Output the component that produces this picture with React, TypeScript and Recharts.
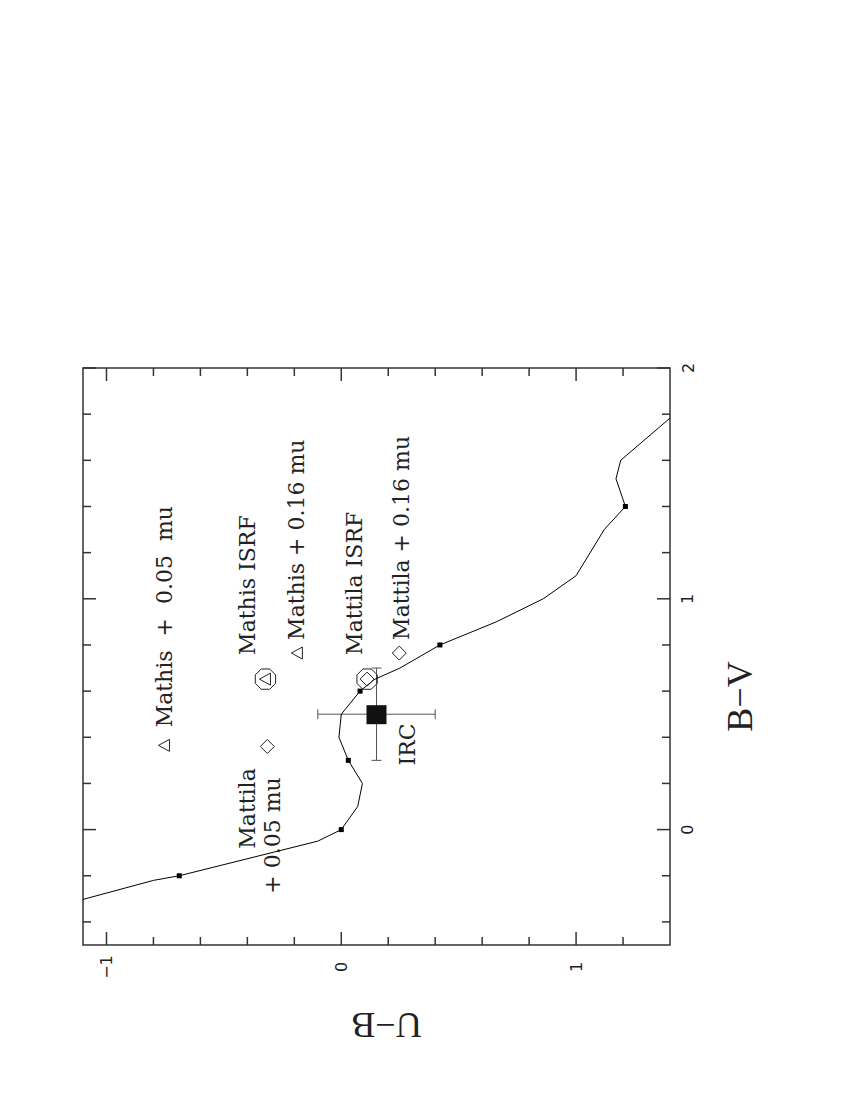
import React from 'react';
import { ScatterChart, Scatter, XAxis, YAxis, ErrorBar, ReferenceArea } from 'recharts';

// intrinsic colour sequence, in drawing order
const seqUB = [-1.2, -0.8, -0.69, -0.1, 0.0, 0.07, 0.09, 0.03, -0.01, 0.0, 0.08, 0.14, 0.25, 0.42, 0.66, 0.86, 1.0, 1.12, 1.21, 1.17, 1.19, 1.5];
const seqBV = [-0.33, -0.22, -0.2, -0.05, 0.0, 0.1, 0.2, 0.3, 0.4, 0.5, 0.6, 0.65, 0.7, 0.8, 0.9, 1.0, 1.1, 1.3, 1.4, 1.52, 1.6, 1.87];

// small squares on the sequence
const markUB = [-0.69, 0.0, 0.03, 0.08, 0.42, 1.21];
const markBV = [-0.2, 0.0, 0.3, 0.6, 0.8, 1.4];

// models
const mathisUB = [-0.753, -0.187];
const mathisBV = [0.365, 0.765];
const mattilaUB = [-0.315, 0.247];
const mattilaBV = [0.36, 0.765];
const isrfUB = [-0.323, 0.11];
const isrfBV = [0.652, 0.652];
const isrfKind = ['tri', 'dia'];

// observed IRC colours
const ircUB = [0.15];
const ircBV = [0.5];
const ircErrUB = [0.25];
const ircErrBV = [0.2];

const noteText = ['Mathis  +  0.05  mu', 'Mathis ISRF', 'Mathis + 0.16 mu', 'Mattila ISRF', 'Mattila + 0.16 mu', 'Mattila', '+ 0.05 mu', 'IRC'];
const noteUB = [-0.753, -0.4, -0.191, 0.055, 0.255, -0.4, -0.294, 0.28];
const noteBV = [0.443, 0.757, 0.822, 0.757, 0.822, -0.083, -0.278, 0.278];

const ubDomain = [-1.1, 1.4];
const bvDomain = [-0.5, 2];
const ubTicks = [-1, -0.8, -0.6, -0.4, -0.2, 0, 0.2, 0.4, 0.6, 0.8, 1, 1.2];
const bvTicks = [-0.4, -0.2, 0, 0.2, 0.4, 0.6, 0.8, 1, 1.2, 1.4, 1.6, 1.8, 2];

const zip = (u: number[], b: number[]) => u.map((v, i) => ({ ub: v, bv: b[i] }));
const seq = zip(seqUB, seqBV);
const marks = zip(markUB, markBV);
const mathis = zip(mathisUB, mathisBV);
const mattila = zip(mattilaUB, mattilaBV);
const isrf = isrfUB.map((v, i) => ({ ub: v, bv: isrfBV[i], kind: isrfKind[i] }));
const irc = ircUB.map((v, i) => ({ ub: v, bv: ircBV[i], eu: ircErrUB[i], eb: ircErrBV[i] }));
const notes = noteUB.map((v, i) => ({ ub: v, bv: noteBV[i], text: noteText[i] }));

const W = 842;
const H = 1092;
const MARGIN = { top: 360, left: 75, right: 120, bottom: 115 };
const X_AXIS_H = 40;
const Y_AXIS_W = 60;
const PLOT_W = W - MARGIN.left - MARGIN.right - Y_AXIS_W;
const PLOT_H = H - MARGIN.top - MARGIN.bottom - X_AXIS_H;

const INK = '#222';
const AXIS = '#333';
const LABEL_FONT = 'DejaVu Serif';
const TICK_FONT = 'DejaVu Sans';

const isMajor = (v: number) => Math.abs(v - Math.round(v)) < 1e-6;
const fmt = (v: number) => (v < 0 ? '\u2212' + Math.abs(v) : String(v));

// bottom axis tick, mirrored on the top edge
function BottomTick({ x, y, payload }: any) {
  const v = payload.value;
  const len = isMajor(v) ? 13 : 8;
  const ty = y + 22;
  const top = y - PLOT_H;
  return (
    <g>
      <line x1={x} y1={y} x2={x} y2={y - len} stroke={AXIS} strokeWidth={1.5} />
      <line x1={x} y1={top} x2={x} y2={top + len} stroke={AXIS} strokeWidth={1.5} />
      {isMajor(v) && (
        <text x={x} y={ty} transform={`rotate(-90 ${x} ${ty})`} textAnchor="middle" dominantBaseline="central"
          fontFamily={TICK_FONT} fontSize={16} fill={INK}>{fmt(v)}</text>
      )}
    </g>
  );
}

// right axis tick, mirrored on the left edge
function RightTick({ x, y, payload }: any) {
  const v = payload.value;
  const len = isMajor(v) ? 13 : 8;
  const tx = x + 18;
  const left = x - PLOT_W;
  return (
    <g>
      <line x1={x} y1={y} x2={x - len} y2={y} stroke={AXIS} strokeWidth={1.5} />
      <line x1={left} y1={y} x2={left + len} y2={y} stroke={AXIS} strokeWidth={1.5} />
      {isMajor(v) && (
        <text x={tx} y={y} transform={`rotate(-90 ${tx} ${y})`} textAnchor="middle" dominantBaseline="central"
          fontFamily={TICK_FONT} fontSize={16} fill={INK}>{fmt(v)}</text>
      )}
    </g>
  );
}

const Nothing = () => <g />;

const SmallSquare = ({ cx, cy }: any) => <rect x={cx - 2.5} y={cy - 2.5} width={5} height={5} fill="#000" />;

const triPath = (cx: number, cy: number) => `M${cx - 6},${cy} L${cx + 5},${cy - 6} L${cx + 5},${cy + 6} Z`;
const diaPath = (cx: number, cy: number) => `M${cx},${cy - 7} L${cx + 7},${cy} L${cx},${cy + 7} L${cx - 7},${cy} Z`;

const Triangle = ({ cx, cy }: any) => <path d={triPath(cx, cy)} fill="none" stroke={INK} strokeWidth={1} />;
const Diamond = ({ cx, cy }: any) => <path d={diaPath(cx, cy)} fill="none" stroke={INK} strokeWidth={1} />;

function Octagon({ cx, cy, payload }: any) {
  const r = 11;
  const pts = Array.from({ length: 8 }, (_, k) => {
    const a = (Math.PI / 8) * (2 * k + 1);
    return `${cx + r * Math.cos(a)},${cy + r * Math.sin(a)}`;
  }).join(' ');
  return (
    <g>
      <polygon points={pts} fill="none" stroke={INK} strokeWidth={1} />
      <path d={payload.kind === 'tri' ? triPath(cx, cy) : diaPath(cx, cy)} fill="none" stroke={INK} strokeWidth={1} />
    </g>
  );
}

const IrcBox = ({ cx, cy }: any) => <rect x={cx - 10} y={cy - 9} width={20} height={19} fill="#111" />;

function Note({ cx, cy, payload }: any) {
  return (
    <text x={cx} y={cy} transform={`rotate(-90 ${cx} ${cy})`} textAnchor="start" dominantBaseline="central"
      fontFamily={LABEL_FONT} fontSize={22} fill={INK} style={{ whiteSpace: 'pre' }}>{payload.text}</text>
  );
}

export default function App() {
  return (
    <div style={{ width: W, height: H }}>
      <ScatterChart width={W} height={H} margin={MARGIN}>
        <XAxis xAxisId="b" dataKey="ub" type="number" domain={ubDomain} allowDataOverflow ticks={ubTicks}
          interval={0} tickSize={0} tickMargin={0} height={X_AXIS_H} tick={<BottomTick />} axisLine={false}
          label={{
            content: ({ viewBox }: any) => {
              const cx = viewBox.x + viewBox.width / 2 + 10;
              const cy = viewBox.y + 80;
              return (
                <text x={cx} y={cy} transform={`rotate(180 ${cx} ${cy})`} textAnchor="middle" dominantBaseline="central"
                  fontFamily="Liberation Serif" fontSize={36} fill={INK}>U{'\u2212'}B</text>
              );
            },
          }} />
        <YAxis yAxisId="r" dataKey="bv" type="number" orientation="right" domain={bvDomain} allowDataOverflow
          ticks={bvTicks} interval={0} tickSize={0} tickMargin={0} width={Y_AXIS_W} tick={<RightTick />} axisLine={false}
          label={{
            content: ({ viewBox }: any) => {
              const cx = viewBox.x + 70;
              const cy = viewBox.y + viewBox.height / 2 + 40;
              return (
                <text x={cx} y={cy} transform={`rotate(-90 ${cx} ${cy})`} textAnchor="middle" dominantBaseline="central"
                  fontFamily="Liberation Serif" fontSize={36} fill={INK}>B{'\u2212'}V</text>
              );
            },
          }} />

        <ReferenceArea xAxisId="b" yAxisId="r" x1={ubDomain[0]} x2={ubDomain[1]} y1={bvDomain[0]} y2={bvDomain[1]}
          fill="none" fillOpacity={0} stroke={AXIS} strokeWidth={1.5} ifOverflow="visible" />

        <Scatter xAxisId="b" yAxisId="r" data={seq} shape={<Nothing />} line={{ stroke: '#000', strokeWidth: 1 }}
          lineType="joint" isAnimationActive={false} />
        <Scatter xAxisId="b" yAxisId="r" data={marks} shape={<SmallSquare />} isAnimationActive={false} />
        <Scatter xAxisId="b" yAxisId="r" data={mathis} shape={<Triangle />} isAnimationActive={false} />
        <Scatter xAxisId="b" yAxisId="r" data={mattila} shape={<Diamond />} isAnimationActive={false} />
        <Scatter xAxisId="b" yAxisId="r" data={isrf} shape={<Octagon />} isAnimationActive={false} />
        <Scatter xAxisId="b" yAxisId="r" data={irc} shape={<IrcBox />} isAnimationActive={false}>
          <ErrorBar dataKey="eu" direction="x" width={5} stroke="#555" strokeWidth={1} isAnimationActive={false} />
          <ErrorBar dataKey="eb" direction="y" width={5} stroke="#555" strokeWidth={1} isAnimationActive={false} />
        </Scatter>
        <Scatter xAxisId="b" yAxisId="r" data={notes} shape={<Note />} isAnimationActive={false} />
      </ScatterChart>
    </div>
  );
}
